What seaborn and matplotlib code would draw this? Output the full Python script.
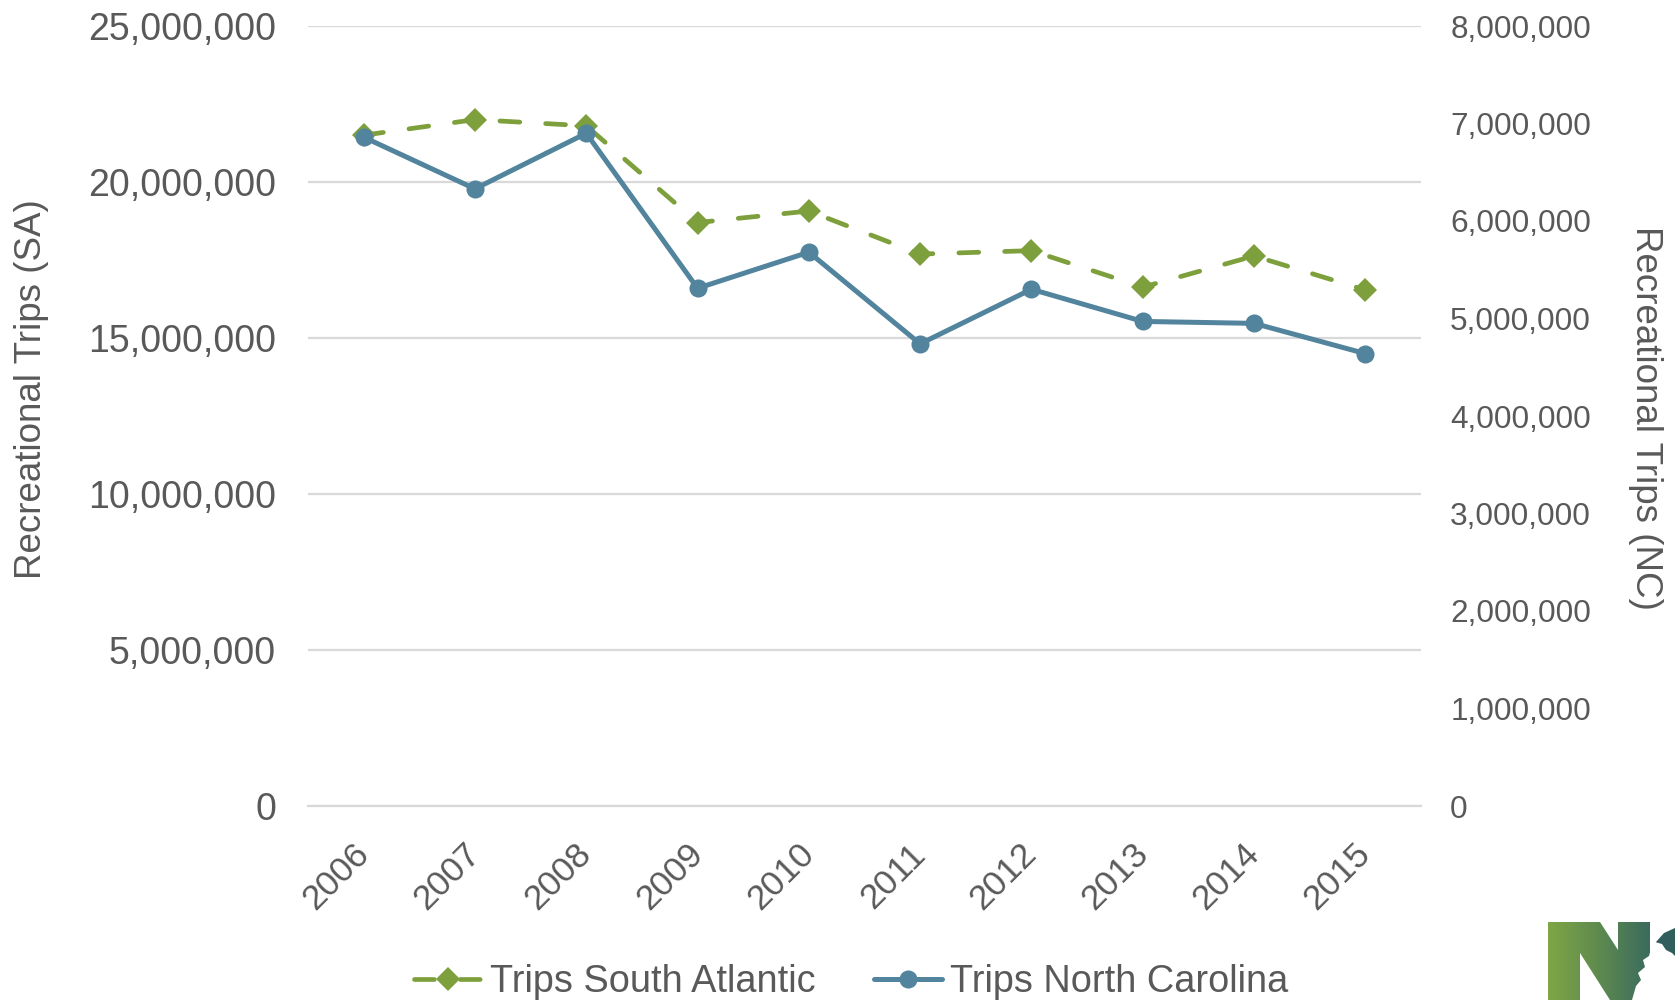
import numpy as np
import pandas as pd
import matplotlib
matplotlib.use("Agg")
import matplotlib.pyplot as plt
import seaborn as sns
from matplotlib.ticker import FuncFormatter, FixedLocator
from matplotlib.lines import Line2D
from matplotlib.patches import Polygon
from matplotlib.colors import LinearSegmentedColormap

# ---------------- data ----------------
years = [2006, 2007, 2008, 2009, 2010, 2011, 2012, 2013, 2014, 2015]
trips_sa = [21.5e6, 22.0e6, 21.8e6, 18.70e6, 19.07e6, 17.69e6, 17.80e6, 16.63e6, 17.63e6, 16.54e6]
trips_nc = [6.86e6, 6.33e6, 6.90e6, 5.31e6, 5.68e6, 4.74e6, 5.30e6, 4.97e6, 4.95e6, 4.64e6]
sa_ticks = [0, 5e6, 10e6, 15e6, 20e6, 25e6]
nc_ticks = [0, 1e6, 2e6, 3e6, 4e6, 5e6, 6e6, 7e6, 8e6]
label_sa = "Trips South Atlantic"
label_nc = "Trips North Carolina"
ylabel_sa = "Recreational Trips (SA)"
ylabel_nc = "Recreational Trips (NC)"

df = pd.DataFrame({"Year": years, "SA": trips_sa, "NC": trips_nc})

# ---------------- style ----------------
sns.set_theme(style="white")
plt.rcParams["font.family"] = ["Liberation Sans", "DejaVu Sans"]

GREEN = "#7EA03C"
BLUE = "#52849E"
TXT = "#595959"
GRID = "#D9D9D9"

W, H = 1675, 1000
fig = plt.figure(figsize=(W / 100, H / 100), dpi=100)
L, R, T, B = 308, 1421, 26, 806
ax = fig.add_axes([L / W, 1 - B / H, (R - L) / W, (B - T) / H])
ax2 = ax.twinx()

sa_style = dict(color=GREEN, lw=3.4, marker="D", markersize=12.5, markeredgewidth=0,
                linestyle=(0, (4.2, 5.5)), dash_capstyle="round")
nc_style = dict(color=BLUE, lw=3.6, marker="o", markersize=13, markeredgewidth=0,
                solid_capstyle="round")

sns.lineplot(data=df, x="Year", y="SA", ax=ax, zorder=3, **sa_style)
sns.lineplot(data=df, x="Year", y="NC", ax=ax2, zorder=4, **nc_style)

ax.set_xlim(years[0] - 0.5, years[-1] + 0.5)
ax.set_ylim(sa_ticks[0], sa_ticks[-1])
ax2.set_ylim(nc_ticks[0], nc_ticks[-1])

fmt = FuncFormatter(lambda v, p: f"{int(round(v)):,}")
ax.yaxis.set_major_locator(FixedLocator(sa_ticks))
ax.yaxis.set_major_formatter(fmt)
ax2.yaxis.set_major_locator(FixedLocator(nc_ticks))
ax2.yaxis.set_major_formatter(fmt)

ax.set_xticks(years)
ax.set_xticklabels([str(y) for y in years], rotation=45, ha="right",
                   rotation_mode="anchor", va="center")
ax.set_xticks([y - 0.5 for y in years] + [years[-1] + 0.5], minor=True)

ax.grid(axis="y", color=GRID, lw=1.6)
ax.set_axisbelow(True)
ax.set_xlabel("")
ax.set_ylabel("")
ax2.set_ylabel("")

for a in (ax, ax2):
    for s in ("top", "left", "right", "bottom"):
        a.spines[s].set_visible(False)
ax.spines["bottom"].set_visible(True)
ax.spines["bottom"].set_color(GRID)
ax.spines["bottom"].set_linewidth(1.6)

ax.tick_params(axis="x", which="major", length=0, pad=31, labelsize=25.5, labelcolor=TXT)
ax.tick_params(axis="x", which="minor", length=21, width=1.6, direction="inout", color=GRID)
ax.tick_params(axis="y", length=0, pad=23, labelsize=27, labelcolor=TXT)
ax2.tick_params(axis="y", length=0, pad=21, labelsize=22.7, labelcolor=TXT)

fig.text(32 / W, 1 - 389 / H, ylabel_sa, rotation=90, ha="center", va="center",
         fontsize=26.5, color=TXT)
fig.text(1645 / W, 1 - 418 / H, ylabel_nc, rotation=270, ha="center", va="center",
         fontsize=26.5, color=TXT)

handles = [Line2D([], [], **sa_style), Line2D([], [], **nc_style)]
fig.legend(handles, [label_sa, label_nc], loc="center", bbox_to_anchor=(851 / W, 1 - 982 / H),
           ncol=2, frameon=False, fontsize=27.3, handlelength=1.8, handletextpad=0.2,
           columnspacing=1.55, labelcolor=TXT, borderaxespad=0, borderpad=0)

# ---------------- logo fragment (bottom right) ----------------
lx0, ly0 = 1548, 920
lax = fig.add_axes([lx0 / W, 0, (W - lx0) / W, (H - ly0) / H])
lax.set_xlim(0, W - lx0)
lax.set_ylim(H - ly0, 0)
lax.axis("off")
cmap = LinearSegmentedColormap.from_list("logo", ["#7FA646", "#5E8A4F", "#3A6B5E"])
grad = np.linspace(0, 1, 256).reshape(1, -1)
im = lax.imshow(grad, cmap=cmap, extent=(0, 102, 80, 0), aspect="auto")
n_poly = Polygon([(0, 2), (52, 2), (70, 30), (70, 2), (102, 2), (102, 80), (62, 80),
                  (32, 33), (32, 80), (0, 80)], closed=True, transform=lax.transData,
                 facecolor="none", edgecolor="none")
lax.add_patch(n_poly)
im.set_clip_path(n_poly)
lax.add_patch(Polygon([(104, 80), (104, 35), (108, 22), (116, 13), (127, 8), (127, 80)],
                      closed=True, facecolor="#2F5E5C", edgecolor="none"))
lax.add_patch(Polygon([(84, 80), (88, 66), (93, 60), (90, 53), (97, 47), (95, 40),
                       (101, 36), (103, 29), (107, 22), (114, 24), (118, 30), (124, 33),
                       (127, 36), (127, 80)], closed=True, facecolor="white", edgecolor="none"))

fig.savefig("out.png", dpi=100)
